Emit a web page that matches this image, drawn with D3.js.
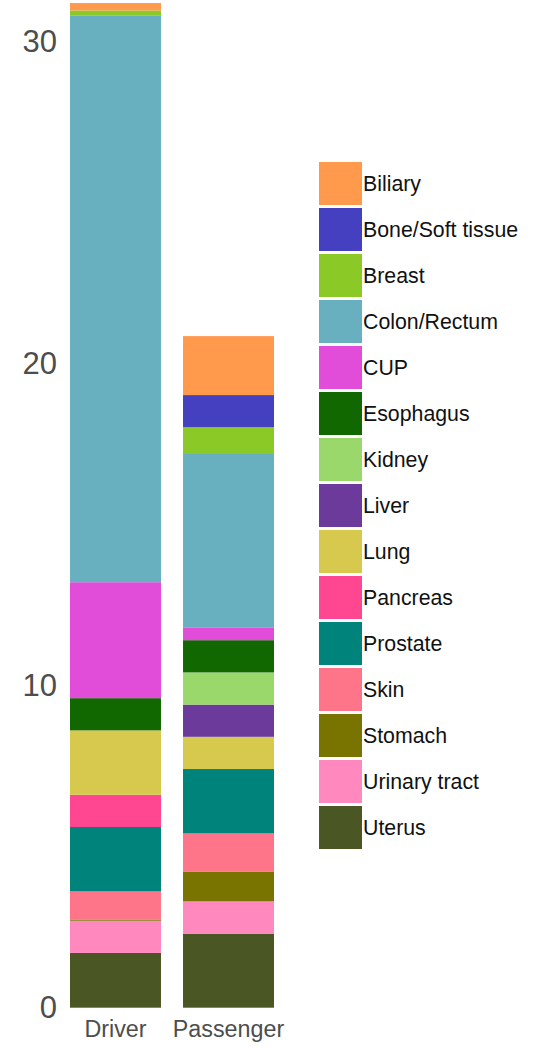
<!DOCTYPE html>
<html>
<head>
<meta charset="utf-8">
<script src="https://cdn.jsdelivr.net/npm/d3@7"></script>
<style>
  body { margin: 0; background: #fff; }
  svg { display: block; font-family: "Liberation Sans", Arial, sans-serif; }
</style>
</head>
<body>
<div id="display"></div>
<script>
const groups = ["Driver", "Passenger"]
const sites = ["Biliary", "Bone/Soft tissue", "Breast", "Colon/Rectum", "CUP", "Esophagus",
  "Kidney", "Liver", "Lung", "Pancreas", "Prostate", "Skin", "Stomach", "Urinary tract", "Uterus"]
const colors = ["#ff994c", "#4540c0", "#8ac926", "#68b0c0", "#e14cd8", "#116800",
  "#9bd86b", "#6b3a9a", "#d7c94e", "#ff4791", "#00837a", "#fe7489", "#797300", "#ff88bf", "#4a5724"]
const driver = [0.23, 0, 0.15, 17.6, 3.6, 1.0, 0, 0, 2.0, 1.0, 2.0, 0.87, 0.04, 1.0, 1.7]
const passenger = [1.83, 1.0, 0.83, 5.38, 0.4, 1.0, 1.0, 1.0, 1.0, 0, 2.0, 1.18, 0.93, 1.0, 2.3]
const yTicks = [0, 10, 20, 30]

function chart(parentNode)
{
  let width = 534
  let height = 1049

  let x = d3.scaleBand(groups, [70, 274]).paddingInner(0.195).paddingOuter(0)
  let y = d3.scaleLinear([0, 30], [1007.7, 41.4])
  let color = d3.scaleOrdinal(sites, colors)

  // one row per group, keyed by site
  let rows = groups.map((g, i) => {
    let vals = i === 0 ? driver : passenger
    let r = {group: g}
    sites.forEach((s, j) => r[s] = vals[j])
    return r
  })

  // Uterus at bottom, Biliary on top
  let stack = d3.stack().keys(sites.slice().reverse())
  let series = stack(rows)

  const svg = d3.create("svg")
      .attr("width", width)
      .attr("height", height)
      .attr("viewBox", [0, 0, width, height])

  svg.append("g")
    .selectAll("g")
    .data(series)
    .join("g")
      .attr("fill", d => color(d.key))
    .selectAll("rect")
    .data(d => d)
    .join("rect")
      .attr("x", d => x(d.data.group))
      .attr("width", x.bandwidth())
      .attr("y", d => y(d[1]))
      .attr("height", d => y(d[0]) - y(d[1]))

  // y axis: labels only
  svg.append("g")
      .attr("transform", "translate(57,0)")
      .call(d3.axisLeft(y).tickValues(yTicks).tickSize(0).tickPadding(0))
      .call(g => g.select(".domain").remove())
      .call(g => g.selectAll("text")
          .attr("fill", "#4d4d4d")
          .attr("font-size", 31)
          .attr("font-family", null))

  // x axis: labels only
  svg.append("g")
      .attr("transform", "translate(0,1008)")
      .call(d3.axisBottom(x).tickSize(0).tickPadding(0))
      .call(g => g.select(".domain").remove())
      .call(g => g.selectAll("text")
          .attr("fill", "#4d4d4d")
          .attr("font-size", 23.3)
          .attr("font-family", null)
          .attr("dy", null)
          .attr("y", 28.7))

  // legend
  const legend = svg.append("g")
      .attr("transform", "translate(319,162)")
    .selectAll("g")
    .data(sites)
    .join("g")
      .attr("transform", (d, i) => `translate(0,${i * 46})`)

  legend.append("rect")
      .attr("width", 43)
      .attr("height", 43)
      .attr("fill", d => color(d))

  legend.append("text")
      .attr("x", 44)
      .attr("y", 21.5)
      .attr("dy", "0.35em")
      .attr("font-size", 21.3)
      .attr("fill", "#111")
      .text(d => d)

  parentNode.appendChild(svg.node())
}

document.addEventListener("DOMContentLoaded", () => {
  chart(document.getElementById("display"))
})
</script>
</body>
</html>
